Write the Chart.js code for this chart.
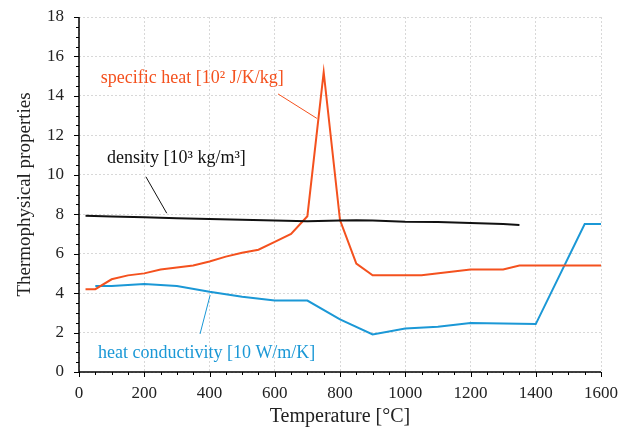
<!DOCTYPE html>
<html>
<head>
<meta charset="utf-8">
<script src="https://cdn.jsdelivr.net/npm/chart.js@4.4.0/dist/chart.umd.min.js"></script>
<style>
  html, body { margin: 0; padding: 0; background: #fff; }
  #wrap { width: 631px; height: 433px; }
</style>
</head>
<body>
<div id="wrap"><canvas id="chart" width="631" height="433"></canvas></div>
<script>
// specific heat [10^2 J/K/kg]
const heatT = [20, 50, 100, 150, 200, 250, 300, 350, 400, 450, 500, 550, 600, 650, 700, 750, 800, 850, 900, 1050, 1200, 1300, 1350, 1600];
const heatV = [4.2, 4.2, 4.7, 4.9, 5.0, 5.2, 5.3, 5.4, 5.6, 5.85, 6.05, 6.2, 6.6, 7.0, 7.9, 15.2, 7.7, 5.5, 4.9, 4.9, 5.2, 5.2, 5.4, 5.4];

// density [10^3 kg/m^3]
const densT = [20, 100, 200, 300, 400, 500, 600, 700, 800, 850, 900, 1000, 1100, 1200, 1300, 1350];
const densV = [7.92, 7.89, 7.85, 7.8, 7.76, 7.72, 7.68, 7.64, 7.68, 7.7, 7.68, 7.62, 7.6, 7.55, 7.5, 7.45];

// heat conductivity [10 W/m/K]
const condT = [50, 100, 200, 300, 400, 500, 600, 700, 800, 900, 1000, 1100, 1200, 1400, 1550, 1600];
const condV = [4.36, 4.36, 4.46, 4.36, 4.07, 3.82, 3.62, 3.62, 2.67, 1.9, 2.2, 2.3, 2.48, 2.43, 7.5, 7.5];

const xTicks = [0, 200, 400, 600, 800, 1000, 1200, 1400, 1600];
const yTicks = [0, 2, 4, 6, 8, 10, 12, 14, 16, 18];

const orange = "#f4511e";
const blue = "#1b98d6";
const black = "#111111";

// labels with leader lines, in data units
const labelText = ["specific heat [10² J/K/kg]", "density [10³ kg/m³]", "heat conductivity [10 W/m/K]"];
const labelColor = [orange, black, blue];
const labelAt = [[67, 14.9], [86, 10.85], [58, 0.96]];
const leaderFrom = [[610, 14.1], [205, 9.9], [371, 1.93]];
const leaderTo = [[729, 12.86], [269, 8.05], [402, 3.9]];

const serif = "'Liberation Serif', 'DejaVu Serif', serif";

const toPoints = (xs, ys) => xs.map((x, i) => ({ x: x, y: ys[i] }));

const tickPlugin = {
  id: "ticksAndLabels",
  afterDraw(chart) {
    const { ctx, scales: { x, y }, chartArea } = chart;
    ctx.save();
    ctx.strokeStyle = "#000";
    ctx.lineWidth = 1;
    // minor / major ticks on x axis
    for (let v = 0; v <= 1600; v += 50) {
      const px = Math.round(x.getPixelForValue(v)) + 0.5;
      const len = v % 200 === 0 ? 5 : 3;
      ctx.beginPath();
      ctx.moveTo(px, chartArea.bottom);
      ctx.lineTo(px, chartArea.bottom + len);
      ctx.stroke();
    }
    for (let v = 0; v <= 18; v += 0.5) {
      const py = Math.round(y.getPixelForValue(v)) + 0.5;
      const len = v % 2 === 0 ? 5 : 3;
      ctx.beginPath();
      ctx.moveTo(chartArea.left, py);
      ctx.lineTo(chartArea.left - len, py);
      ctx.stroke();
    }
    // axis lines
    ctx.lineWidth = 1.5;
    ctx.beginPath();
    ctx.moveTo(chartArea.left, chartArea.top);
    ctx.lineTo(chartArea.left, chartArea.bottom);
    ctx.lineTo(chartArea.right, chartArea.bottom);
    ctx.stroke();

    // text labels and leader lines
    ctx.font = "18px " + serif;
    ctx.textBaseline = "middle";
    ctx.textAlign = "left";
    labelText.forEach((t, i) => {
      ctx.fillStyle = labelColor[i];
      ctx.fillText(t, x.getPixelForValue(labelAt[i][0]), y.getPixelForValue(labelAt[i][1]));
      ctx.strokeStyle = labelColor[i];
      ctx.lineWidth = 1;
      ctx.beginPath();
      ctx.moveTo(x.getPixelForValue(leaderFrom[i][0]), y.getPixelForValue(leaderFrom[i][1]));
      ctx.lineTo(x.getPixelForValue(leaderTo[i][0]), y.getPixelForValue(leaderTo[i][1]));
      ctx.stroke();
    });
    ctx.restore();
  },
};

const lineSet = (label, xs, ys, color) => ({
  label: label,
  data: toPoints(xs, ys),
  borderColor: color,
  backgroundColor: color,
  borderWidth: 2,
  pointRadius: 0,
  tension: 0,
  fill: false,
});

new Chart(document.getElementById("chart").getContext("2d"), {
  type: "line",
  data: {
    datasets: [
      lineSet("density", densT, densV, black),
      lineSet("specific heat", heatT, heatV, orange),
      lineSet("heat conductivity", condT, condV, blue),
    ],
  },
  options: {
    responsive: false,
    animation: false,
    layout: { padding: { top: 17, right: 30, left: 0, bottom: 0 } },
    plugins: {
      legend: { display: false },
      tooltip: { enabled: false },
    },
    scales: {
      x: {
        type: "linear",
        min: 0,
        max: 1600,
        afterBuildTicks: (s) => { s.ticks = xTicks.map((v) => ({ value: v })); },
        afterFit: (s) => { s.height = 61; },
        border: { display: false, dash: [2, 2] },
        grid: { color: "#d8d8d8", lineWidth: 1, drawTicks: false },
        ticks: { color: "#222", font: { family: serif, size: 17 }, padding: 11, callback: (v) => String(v) },
        title: { display: true, text: "Temperature [°C]", color: "#222", font: { family: serif, size: 20 }, padding: { top: 1 } },
      },
      y: {
        type: "linear",
        min: 0,
        max: 18,
        afterBuildTicks: (s) => { s.ticks = yTicks.map((v) => ({ value: v })); },
        afterFit: (s) => { s.width = 79; s.paddingTop = 0; s.paddingBottom = 0; },
        border: { display: false, dash: [2, 2] },
        grid: { color: "#d8d8d8", lineWidth: 1, drawTicks: false },
        ticks: { color: "#222", font: { family: serif, size: 17 }, padding: 15, callback: (v) => String(v) },
        title: { display: true, text: "Thermophysical properties", color: "#222", font: { family: serif, size: 19 }, padding: { top: 14 } },
      },
    },
  },
  plugins: [tickPlugin],
});
</script>
</body>
</html>
